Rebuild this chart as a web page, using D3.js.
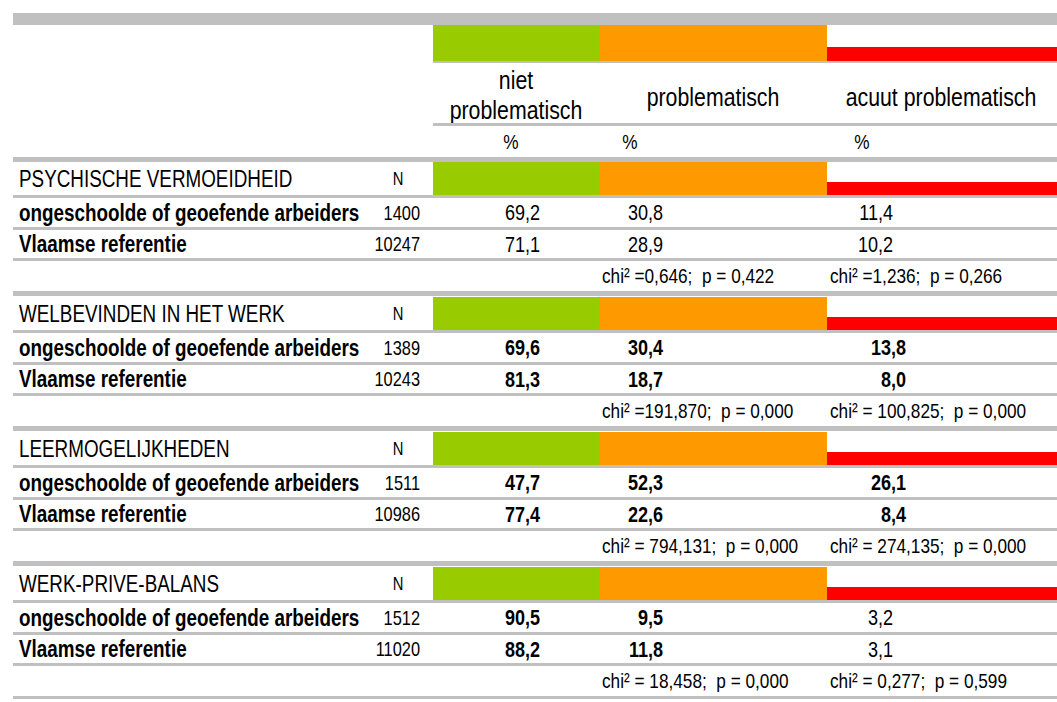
<!DOCTYPE html>
<html>
<head>
<meta charset="utf-8">
<script src="https://cdn.jsdelivr.net/npm/d3@7"></script>
<style>
  body { margin: 0; background: #fff; }
  text { font-family: "Liberation Sans", Arial, sans-serif; fill: #000; white-space: pre; }
</style>
</head>
<body>
<div id="chart"></div>
<script>
// categories (colour columns)
var categories = ['niet problematisch', 'problematisch', 'acuut problematisch'];
var headerLines = [['niet', 'problematisch'], ['problematisch'], ['acuut problematisch']];
var colours = ['#99cc00', '#ff9900', '#ff0000'];

// sections and groups
var sections = ['PSYCHISCHE VERMOEIDHEID', 'WELBEVINDEN IN HET WERK', 'LEERMOGELIJKHEDEN', 'WERK-PRIVE-BALANS'];
var groups = ['ongeschoolde of geoefende arbeiders', 'Vlaamse referentie'];

var nGroup = [1400, 1389, 1511, 1512];
var nRef = [10247, 10243, 10986, 11020];

// percentages [group, reference] per section
var nietProblematisch = [[69.2, 71.1], [69.6, 81.3], [47.7, 77.4], [90.5, 88.2]];
var problematisch = [[30.8, 28.9], [30.4, 18.7], [52.3, 22.6], [9.5, 11.8]];
var acuutProblematisch = [[11.4, 10.2], [13.8, 8.0], [26.1, 8.4], [3.2, 3.1]];

var chiProblematisch = ['chi\u00b2 =0,646;  p = 0,422', 'chi\u00b2 =191,870;  p = 0,000',
  'chi\u00b2 = 794,131;  p = 0,000', 'chi\u00b2 = 18,458;  p = 0,000'];
var chiAcuut = ['chi\u00b2 =1,236;  p = 0,266', 'chi\u00b2 = 100,825;  p = 0,000',
  'chi\u00b2 = 274,135;  p = 0,000', 'chi\u00b2 = 0,277;  p = 0,599'];

// which value columns are bold in each section
var boldCols = [[false, false, false], [true, true, true], [true, true, true], [true, true, false]];

var W = 1057, H = 702;
var LEFT = 13;
var GRAY = '#c0c0c0';
var NARROW = 0.82; // fake a narrow face by squeezing the text

var svg = d3.select('#chart').append('svg')
  .attr('width', W).attr('height', H);

var colStart = d3.scaleOrdinal().domain(categories).range([433, 599, 827]);
var colEnd = d3.scaleOrdinal().domain(categories).range([599, 827, W]);
var valueRight = d3.scaleOrdinal().domain(categories).range([540, 663, 893]);
var ySection = d3.scaleLinear().domain([0, sections.length - 1]).range([162, 567]);

var fmt = function(v) { return d3.format('.1f')(v).replace('.', ','); };

function hline(y, h, x0) {
  svg.append('rect').attr('x', x0).attr('y', y).attr('width', W - x0).attr('height', h).attr('fill', GRAY);
}

function label(x, y, txt, size, opts) {
  opts = opts || {};
  return svg.append('text')
    .attr('transform', 'translate(' + x + ',' + (y + size * 0.35) + ') scale(' + NARROW + ',1)')
    .attr('font-size', size)
    .attr('font-weight', opts.bold ? 'bold' : 'normal')
    .attr('text-anchor', opts.anchor || 'start')
    .text(txt);
}

// top band
hline(13, 12, LEFT);

// header colour band
svg.selectAll('.hdr').data(categories).enter().append('rect')
  .attr('x', colStart)
  .attr('y', function(d, i) { return i === 2 ? 47 : 25; })
  .attr('width', function(d) { return colEnd(d) - colStart(d); })
  .attr('height', function(d, i) { return i === 2 ? 14 : 36; })
  .attr('fill', function(d, i) { return colours[i]; });

hline(61, 2, 433);

// header labels
var hdrCenter = [516, 713, 941];
headerLines.forEach(function(lines, i) {
  lines.forEach(function(l, j) {
    var y = lines.length === 1 ? 97 : 80 + j * 30;
    label(hdrCenter[i], y, l, 26, { anchor: 'middle' });
  });
});

hline(123, 3, 433);

var pctX = [511, 630, 862];
categories.forEach(function(c, i) {
  label(pctX[i], 142, '%', 21, { anchor: 'middle' });
});

hline(157, 5, LEFT);

// sections
var series = [nietProblematisch, problematisch, acuutProblematisch];

sections.forEach(function(name, s) {
  var y0 = ySection(s);
  var g = svg.append('g');

  g.selectAll('rect.band').data(categories).enter().append('rect')
    .attr('x', colStart)
    .attr('y', function(d, i) { return i === 2 ? y0 + 20 : y0; })
    .attr('width', function(d) { return colEnd(d) - colStart(d); })
    .attr('height', function(d, i) { return i === 2 ? 13 : 33; })
    .attr('fill', function(d, i) { return colours[i]; });

  label(19, y0 + 16.5, name, 23);
  label(398, y0 + 16.5, 'N', 18, { anchor: 'middle' });

  hline(y0 + 33, 3, LEFT);
  hline(y0 + 65, 3, LEFT);
  hline(y0 + 96, 3, LEFT);
  hline(y0 + 129, s === sections.length - 1 ? 3 : 5, LEFT);

  var rowMid = [y0 + 50.5, y0 + 82];
  var ns = [nGroup[s], nRef[s]];
  groups.forEach(function(gName, r) {
    label(19, rowMid[r], gName, 23, { bold: true });
    label(420, rowMid[r], ns[r], 20, { anchor: 'end' });
    categories.forEach(function(c, k) {
      var bold = boldCols[s][k];
      var xr = valueRight(c);
      if (k === 2 && bold) xr = 906;
      label(xr, rowMid[r], fmt(series[k][s][r]), 22, { anchor: 'end', bold: bold });
    });
  });

  label(602, y0 + 114, chiProblematisch[s], 21);
  label(830, y0 + 114, chiAcuut[s], 21);
});
</script>
</body>
</html>
